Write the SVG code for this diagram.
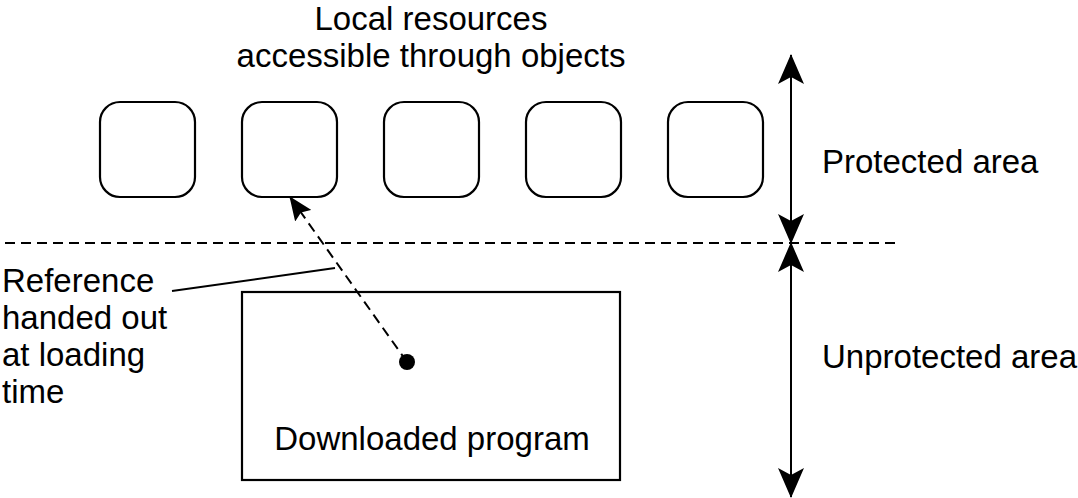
<svg xmlns="http://www.w3.org/2000/svg" width="1078" height="498" viewBox="0 0 1078 498">
<style>
text{font-family:"Liberation Sans",Arial,sans-serif;font-size:33px;fill:#000}
.box{fill:#fff;stroke:#000;stroke-width:2.2}
.ln{fill:none;stroke:#000;stroke-width:2}
.dash{fill:none;stroke:#000;stroke-width:2;stroke-dasharray:10 6}
</style>
<defs>
<marker id="ah" viewBox="0 0 30 26" refX="29" refY="13" markerWidth="30" markerHeight="26" markerUnits="userSpaceOnUse" orient="auto">
<path d="M0,0 L30,13 L0,26 L7,13 Z" fill="#000"/>
</marker>
<marker id="ahs" viewBox="0 0 24 20" refX="23" refY="10" markerWidth="24" markerHeight="20" markerUnits="userSpaceOnUse" orient="auto">
<path d="M0,0 L24,10 L0,20 L4,10 Z" fill="#000"/>
</marker>
</defs>
<rect width="1078" height="498" fill="#fff"/>
<g id="title"><text x="431" y="30" text-anchor="middle">Local resources</text><text x="431" y="67" text-anchor="middle">accessible through objects</text></g>
<g id="obj1"><rect class="box" x="100" y="102" width="95" height="95" rx="20"/></g>
<g id="obj2"><rect class="box" x="242" y="102" width="95" height="95" rx="20"/></g>
<g id="obj3"><rect class="box" x="384" y="102" width="95" height="95" rx="20"/></g>
<g id="obj4"><rect class="box" x="526" y="102" width="95" height="95" rx="20"/></g>
<g id="obj5"><rect class="box" x="668" y="102" width="95" height="95" rx="20"/></g>
<g id="program"><rect class="box" x="242" y="292" width="378" height="188"/><text x="432" y="450" text-anchor="middle">Downloaded program</text><circle cx="407" cy="362" r="8" fill="#000"/></g>
<g id="labels">
<text x="822" y="173">Protected area</text>
<text x="822" y="368">Unprotected area</text>
<text x="2" y="292">Reference</text>
<text x="2" y="329">handed out</text>
<text x="2" y="366">at loading</text>
<text x="2" y="403">time</text>
</g>
<g id="connectors">
<line class="dash" x1="5" y1="243" x2="900" y2="243"/>
<line class="ln" x1="791" y1="149" x2="791" y2="55" marker-end="url(#ah)"/>
<line class="ln" x1="791" y1="149" x2="791" y2="243" marker-end="url(#ah)"/>
<line class="ln" x1="791" y1="370" x2="791" y2="243" marker-end="url(#ah)"/>
<line class="ln" x1="791" y1="370" x2="791" y2="497" marker-end="url(#ah)"/>
<line class="dash" x1="407" y1="362" x2="290" y2="197" marker-end="url(#ahs)"/>
<line class="ln" x1="172" y1="291" x2="335" y2="268"/>
</g>
</svg>
